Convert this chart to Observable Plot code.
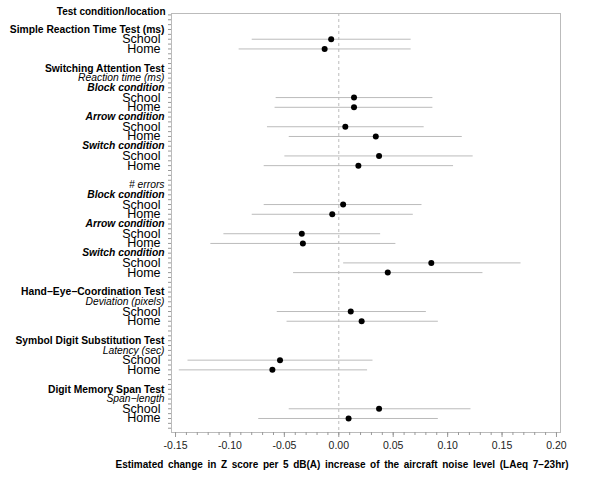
<!DOCTYPE html>
<html>
<head>
<meta charset="utf-8">
<script src="https://cdn.jsdelivr.net/npm/d3@7"></script>
<script src="https://cdn.jsdelivr.net/npm/@observablehq/plot@0.6"></script>
<style>
  html, body { margin: 0; padding: 0; background: #fff; }
  #chart svg { display: block; }
</style>
</head>
<body>
<div id="chart"></div>
<script>
// Row labels, top to bottom ("" = blank spacer row)
const rowLabels = [
  "Simple Reaction Time Test (ms)", "School", "Home", "",
  "Switching Attention Test", "Reaction time (ms)",
  "Block condition", "School", "Home",
  "Arrow condition", "School", "Home",
  "Switch condition", "School", "Home", "",
  "# errors",
  "Block condition", "School", "Home",
  "Arrow condition", "School", "Home",
  "Switch condition", "School", "Home", "",
  "Hand\u2212Eye\u2212Coordination Test", "Deviation (pixels)", "School", "Home", "",
  "Symbol Digit Substitution Test", "Latency (sec)", "School", "Home", "",
  "Digit Memory Span Test", "Span\u2212length", "School", "Home"
];
// Row type: h = test header (bold), s = measure (italic), c = condition (bold italic), l = location
const rowKinds = [
  "h","l","l","",
  "h","s",
  "c","l","l",
  "c","l","l",
  "c","l","l","",
  "s",
  "c","l","l",
  "c","l","l",
  "c","l","l","",
  "h","s","l","l","",
  "h","s","l","l","",
  "h","s","l","l"
];
// Estimates and 95% CI, in order of the School/Home rows
const estimate = [-0.007, -0.013, 0.014, 0.014, 0.006, 0.034, 0.037, 0.018,
                  0.004, -0.006, -0.034, -0.033, 0.085, 0.045,
                  0.011, 0.021, -0.054, -0.061, 0.037, 0.009];
const lower    = [-0.080, -0.092, -0.058, -0.059, -0.066, -0.046, -0.050, -0.069,
                  -0.069, -0.080, -0.106, -0.118, 0.004, -0.042,
                  -0.057, -0.048, -0.139, -0.147, -0.046, -0.074];
const upper    = [0.066, 0.066, 0.086, 0.086, 0.078, 0.113, 0.123, 0.105,
                  0.076, 0.068, 0.038, 0.052, 0.167, 0.132,
                  0.080, 0.091, 0.031, 0.026, 0.121, 0.091];
const xTicks = [-0.15, -0.10, -0.05, 0.00, 0.05, 0.10, 0.15, 0.20];
const title = "Test condition/location";
const xLabel = "Estimated change in Z score per 5 dB(A) increase of the aircraft noise level (LAeq 7\u221223hr)";

const rowIdx = rowLabels.map((d, i) => i);
const locRows = rowIdx.filter(i => rowKinds[i] === "l");
const data = locRows.map((r, k) => ({row: r, est: estimate[k], lo: lower[k], hi: upper[k]}));
const byKind = k => rowIdx.filter(i => rowKinds[i] === k);
const fmtRow = i => rowLabels[i];
const minorX = d3.range(-15, 21).map(i => i / 100);
const minorY = d3.range(-3, 83).map(i => i / 2);

const font = "'Liberation Sans', Arial, Helvetica, sans-serif";

const plot = Plot.plot({
  width: 600,
  height: 497,
  marginLeft: 171,
  marginRight: 40,
  marginTop: 13,
  marginBottom: 65,
  style: {fontFamily: font, background: "#fff", color: "#000"},
  x: {domain: [-0.1537, 0.2037], label: null},
  y: {domain: [41.44, -1.645], label: null},
  marks: [
    Plot.frame({stroke: "#bbb"}),
    Plot.ruleX([0], {stroke: "#bbb", strokeDasharray: "3,3"}),
    // y minor ticks
    Plot.axisY(minorY, {tickSize: 3, tickFormat: () => "", stroke: "#999", label: null}),
    // x ticks
    Plot.axisX(minorX, {tickSize: 3, tickFormat: () => "", stroke: "#999", label: null}),
    Plot.axisX(xTicks, {tickSize: 5, stroke: "#999", tickPadding: 4, label: null,
      tickFormat: d => d.toFixed(2), fontSize: 10.5, fill: "#222"}),
    // row labels
    Plot.axisY(byKind("h"), {tickSize: 0, tickPadding: 7, tickFormat: fmtRow, label: null,
      fontWeight: "bold", fontSize: 10.3}),
    Plot.axisY(byKind("s"), {tickSize: 0, tickPadding: 7, tickFormat: fmtRow, label: null,
      fontStyle: "italic", fontSize: 10.3}),
    Plot.axisY(byKind("c"), {tickSize: 0, tickPadding: 7, tickFormat: fmtRow, label: null,
      fontWeight: "bold", fontStyle: "italic", fontSize: 10.3}),
    Plot.axisY(locRows, {tickSize: 0, tickPadding: 11, tickFormat: fmtRow, label: null,
      fontSize: 12.5}),
    // CI lines and estimates
    Plot.link(data, {x1: "lo", x2: "hi", y1: "row", y2: "row", stroke: "#bbb", strokeWidth: 1}),
    Plot.dot(data, {x: "est", y: "row", r: 3, fill: "#000"}),
    // title and x label
    Plot.text([title], {frameAnchor: "top-left", textAnchor: "end", dx: -6, dy: -6,
      fontWeight: "bold", fontSize: 10}),
    Plot.text([xLabel], {frameAnchor: "bottom", dx: -24, dy: 35,
      fontWeight: "bold", fontSize: 10})
  ]
});
d3.select(plot).selectAll("text")
  .filter(function() { return this.textContent === xLabel; })
  .style("word-spacing", "1.8px");
document.getElementById("chart").appendChild(plot);
</script>
</body>
</html>
